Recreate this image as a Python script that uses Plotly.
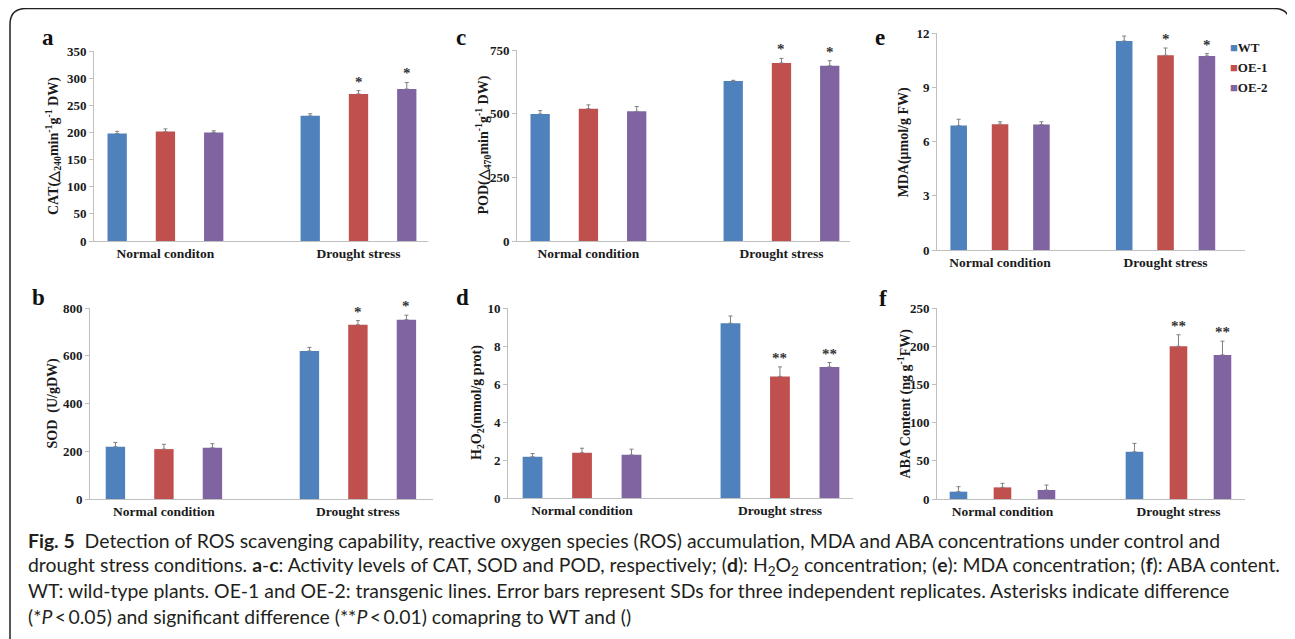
import plotly.graph_objects as go

# page body has an 8px margin: figure is drawn from screen (8, 8)
OFF = 8
W, H = 1295 - OFF, 639 - OFF

series = ["WT", "OE-1", "OE-2"]
colors = ["#4F81BD", "#C0504D", "#8064A2"]

# Panel data: values[series][condition], errors[series][condition]
cat_a = ["Normal conditon", "Drought stress"]
cat_std = ["Normal condition", "Drought stress"]

cat_vals = [[198, 230.5], [201.5, 271], [200, 280]]
cat_err = [[4, 4], [5, 6], [3, 12]]
cat_stars = ["", "*", "*"]

sod_vals = [[219, 620], [209, 730], [214.5, 751]]
sod_err = [[18, 15], [20, 17], [17, 19]]
sod_stars = ["", "*", "*"]

pod_vals = [[499, 628], [519.5, 699], [509, 688]]
pod_err = [[13, 3], [15, 18], [19, 20]]
pod_stars = ["", "*", "*"]

h2o2_vals = [[2.17, 9.2], [2.38, 6.4], [2.27, 6.9]]
h2o2_err = [[0.17, 0.38], [0.24, 0.5], [0.3, 0.23]]
h2o2_stars = ["", "**", "**"]

mda_vals = [[6.88, 11.56], [6.96, 10.77], [6.94, 10.73]]
mda_err = [[0.35, 0.27], [0.13, 0.4], [0.15, 0.13]]
mda_stars = ["", "*", "*"]

aba_vals = [[9.6, 61.8], [15.2, 200], [11.8, 188.6]]
aba_err = [[6.5, 11], [5.3, 15], [6.5, 18]]
aba_stars = ["", "**", "**"]


def px(x):
    return (x - OFF) / W


def py(y):
    return 1 - (y - OFF) / H


panels = [
    dict(letter="a", cats=cat_a, vals=cat_vals, errs=cat_err, stars=cat_stars,
         ytitle="CAT(△<sub>240</sub>min<sup>-1</sup>g<sup>-1</sup> DW)", yr=[0, 350], dt=50,
         box=(94, 428, 51, 241), xr=[-0.370, 1.360], lp=(48, 38), tx=53),
    dict(letter="b", cats=cat_std, vals=sod_vals, errs=sod_err, stars=sod_stars,
         ytitle="SOD  (U/gDW)", yr=[0, 800], dt=200,
         box=(90, 433, 308, 499), xr=[-0.381, 1.387], lp=(38, 297), tx=53),
    dict(letter="c", cats=cat_std, vals=pod_vals, errs=pod_err, stars=pod_stars,
         ytitle="POD(△<sub>470</sub>min<sup>-1</sup>g<sup>-1</sup> DW)", yr=[0, 750], dt=250,
         box=(517, 850, 50, 241), xr=[-0.370, 1.355], lp=(461, 37), tx=483),
    dict(letter="d", cats=cat_std, vals=h2o2_vals, errs=h2o2_err, stars=h2o2_stars,
         ytitle="H<sub>2</sub>O<sub>2</sub>(mmol/g prot)", yr=[0, 10], dt=2,
         box=(508, 853, 308, 498), xr=[-0.374, 1.369], lp=(462, 297), tx=477),
    dict(letter="e", cats=cat_std, vals=mda_vals, errs=mda_err, stars=mda_stars,
         ytitle="MDA(μmol/g FW)", yr=[0, 12], dt=3,
         box=(937, 1245, 33, 250), xr=[-0.381, 1.480], lp=(880, 38), tx=903),
    dict(letter="f", cats=cat_std, vals=aba_vals, errs=aba_err, stars=aba_stars,
         ytitle="ABA Content (ng g<sup>-1</sup>FW)", yr=[0, 250], dt=50,
         box=(937, 1245, 308, 499), xr=[-0.372, 1.378], lp=(883, 298), tx=905),
]

SERIF = "Liberation Serif"
AX = "#BFBFBF"
TXT = "#1a1a1a"

fig = go.Figure()
annotations = []
layout = {}

for i, p in enumerate(panels):
    n = "" if i == 0 else str(i + 1)
    xa, ya = "x" + n, "y" + n
    for s in range(3):
        fig.add_trace(go.Bar(
            x=p["cats"], y=p["vals"][s], name=series[s],
            marker=dict(color=colors[s], line=dict(width=0)),
            error_y=dict(type="data", symmetric=False, array=p["errs"][s],
                         arrayminus=[0, 0], color="#7F7F7F", thickness=1, width=2),
            xaxis=xa, yaxis=ya, showlegend=False,
        ))
        if p["stars"][s]:
            c = 1
            annotations.append(dict(
                x=c + (s - 1) * 0.25, y=p["vals"][s][c] + p["errs"][s][c],
                xref=xa, yref=ya, text=p["stars"][s], showarrow=False,
                yanchor="bottom", yshift=-1,
                font=dict(family=SERIF, size=15, color="#333333", weight="bold")))
    x0, x1, y0, y1 = p["box"]
    layout["xaxis" + n] = dict(
        domain=[px(x0), px(x1)], anchor=ya, type="category", range=p["xr"],
        showline=True, linecolor=AX, linewidth=1, ticks="", showgrid=False,
        zeroline=False, fixedrange=True, automargin=False,
        tickfont=dict(family=SERIF, size=13.5, color=TXT, weight="bold"))
    layout["yaxis" + n] = dict(
        domain=[py(y1), py(y0)], anchor=xa, range=p["yr"], dtick=p["dt"],
        showline=True, linecolor=AX, linewidth=1, ticks="outside", ticklen=4,
        tickcolor=AX, showgrid=False, zeroline=False, automargin=False,
        tickfont=dict(family=SERIF, size=13, color=TXT, weight="bold"))
    annotations.append(dict(
        x=px(p["lp"][0]), y=py(p["lp"][1]), xref="paper", yref="paper",
        text=p["letter"], showarrow=False, xanchor="center", yanchor="middle",
        font=dict(family=SERIF, size=23, color="#111111", weight="bold")))
    annotations.append(dict(
        x=px(p["tx"]), y=py((y0 + y1) / 2), xref="paper", yref="paper",
        text=p["ytitle"], showarrow=False, textangle=-90,
        xanchor="center", yanchor="middle",
        font=dict(family=SERIF, size=14, color=TXT, weight="bold")))

# legend (drawn next to panel e)
leg_y = [47, 68, 88]
for name, col, yy in zip(series, colors, leg_y):
    annotations.append(dict(
        x=px(1228), y=py(yy), xref="paper", yref="paper", showarrow=False,
        xanchor="left", yanchor="middle",
        text=f"<span style='color:{col}'>■</span>{name}",
        font=dict(family=SERIF, size=13, color=TXT, weight="bold")))

caption = [
    "<b>Fig. 5</b>  Detection of ROS scavenging capability, reactive oxygen species (ROS) accumulation, MDA and ABA concentrations under control and",
    "drought stress conditions. <b>a</b>-<b>c</b>: Activity levels of CAT, SOD and POD, respectively; (<b>d</b>): H<sub>2</sub>O<sub>2</sub> concentration; (<b>e</b>): MDA concentration; (<b>f</b>): ABA content.",
    "WT: wild-type plants. OE-1 and OE-2: transgenic lines. Error bars represent SDs for three independent replicates. Asterisks indicate difference",
    "(*<i>P</i>\u2009&lt;\u20090.05) and significant difference (**<i>P</i>\u2009&lt;\u20090.01) comapring to WT and ()",
]
cap_y = [540, 566, 590, 616]
for t, yy in zip(caption, cap_y):
    annotations.append(dict(
        x=px(26), y=py(yy), xref="paper", yref="paper", text=t, showarrow=False,
        xanchor="left", yanchor="middle",
        font=dict(family="Lato", size=19.4, color="#231F20")))

# rounded frame
r = 16
L, T, R, B = 10, 8.5, 1290, 660
path = (f"M {px(L)},{py(B)} L {px(L)},{py(T + r)} Q {px(L)},{py(T)} {px(L + r)},{py(T)} "
        f"L {px(R - r)},{py(T)} Q {px(R)},{py(T)} {px(R)},{py(T + r)} L {px(R)},{py(B)}")

fig.update_layout(
    width=W, height=H, margin=dict(l=0, r=0, t=0, b=0, pad=0, autoexpand=False),
    paper_bgcolor="white", plot_bgcolor="white",
    barmode="group", bargap=0.25, bargroupgap=0.6,
    showlegend=False,
    annotations=annotations,
    shapes=[dict(type="path", path=path, xref="paper", yref="paper",
                 line=dict(color="#222222", width=1.5))],
    **layout,
)

fig.write_html("out.html")
